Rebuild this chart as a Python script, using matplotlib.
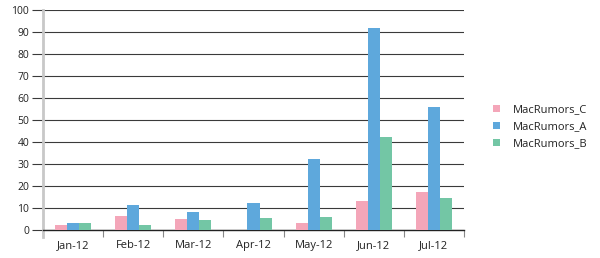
import matplotlib
matplotlib.use("Agg")
import matplotlib.pyplot as plt
import numpy as np

months = ["Jan-12", "Feb-12", "Mar-12", "Apr-12", "May-12", "Jun-12", "Jul-12"]
series_names = ["MacRumors_C", "MacRumors_A", "MacRumors_B"]
mac_c = [2.3, 6.4, 5.0, 0, 3.2, 13.3, 17.3]
mac_a = [3.4, 11.2, 8.2, 12.3, 32.2, 91.8, 56.0]
mac_b = [3.4, 2.3, 4.4, 5.5, 5.9, 42.4, 14.7]
colors = ["#F4A6B9", "#5EA8DC", "#73C6A5"]

plt.rcParams['font.family'] = ['Open Sans', 'DejaVu Sans']
fig = plt.figure(figsize=(6, 2.58), dpi=100)
ax = fig.add_axes([43/600, 1-230/258, (464-43)/600, 220/258])

x = np.arange(len(months))
w = 0.2
for i, (vals, name, col) in enumerate(zip([mac_c, mac_a, mac_b], series_names, colors)):
    ax.bar(x + (i-1)*w, vals, width=w, color=col, label=name, zorder=3)

ax.set_xlim(-0.5, len(months)-0.5)
ax.set_ylim(0, 100)
ax.set_yticks(range(0, 101, 10))
ax.yaxis.grid(True, color="#3a3a3a", linewidth=0.8, zorder=0)
ax.set_axisbelow(True)
ax.tick_params(axis='y', length=8, color="#3a3a3a", width=0.8, labelsize=7.5, pad=2)
for lab in ax.get_yticklabels():
    lab.set_color("#222222")

ax.set_xticks(x)
ax.set_xticklabels(months)
ax.tick_params(axis='x', length=0, labelsize=8, pad=7, labelcolor="#222222")
ax.set_xticks(np.arange(-0.5, len(months), 1.0), minor=True)
ax.tick_params(axis='x', which='minor', length=5, color="#888888", width=0.8)

for s in ['top', 'right']:
    ax.spines[s].set_visible(False)
ax.spines['bottom'].set_color("#222222")
ax.spines['bottom'].set_linewidth(1.0)
ax.spines['left'].set_color("#c8c8c8")
ax.spines['left'].set_linewidth(2.0)
ax.spines['left'].set_bounds(-3, 100)
ax.set_ylim(0, 100)

fig.legend(loc='center left', bbox_to_anchor=(483/600, 1-127/258), frameon=False,
           fontsize=8, handlelength=0.6, handleheight=0.6, handletextpad=1.2,
           labelspacing=0.55, labelcolor="#222222")

fig.savefig("out.png", dpi=100)
